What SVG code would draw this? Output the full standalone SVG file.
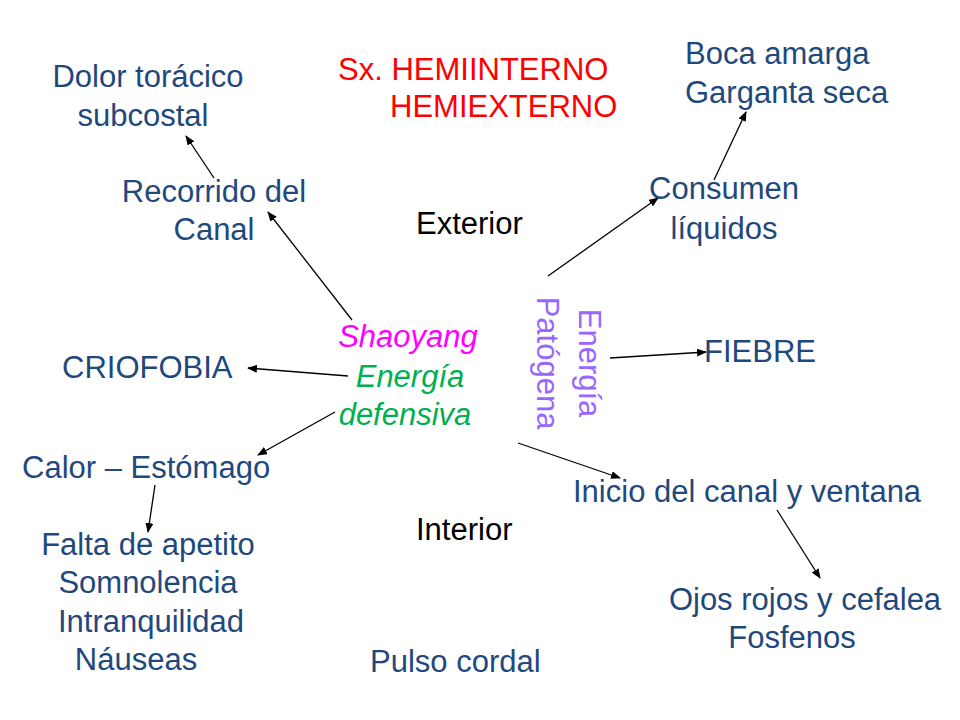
<svg xmlns="http://www.w3.org/2000/svg" width="960" height="720" viewBox="0 0 960 720">
<defs>
<marker id="ah" markerWidth="10" markerHeight="8" refX="9" refY="4" orient="auto" markerUnits="userSpaceOnUse"><path d="M0,0 L10,4 L0,8 Z" fill="#000"/></marker>
<style>
text{font-family:"Liberation Sans",Arial,sans-serif;font-size:31px}
.b{fill:#1F497D}
.r{fill:#FF0000}
.k{fill:#000}
.m{text-anchor:middle}
.c line{stroke:#000;stroke-width:1.3;marker-end:url(#ah)}
</style>
</defs>
<rect width="960" height="720" fill="#fff"/>
<g class="c" id="connectors">
<line x1="214" y1="178" x2="186" y2="136"/>
<line x1="352" y1="320" x2="268" y2="212"/>
<line x1="348" y1="376" x2="248" y2="368"/>
<line x1="335" y1="412" x2="258" y2="455"/>
<line x1="155" y1="485" x2="148" y2="532"/>
<line x1="548" y1="276" x2="658" y2="198"/>
<line x1="714" y1="180" x2="746" y2="112"/>
<line x1="610" y1="358" x2="706" y2="352"/>
<line x1="518" y1="443" x2="620" y2="478"/>
<line x1="777" y1="510" x2="820" y2="578"/>
</g>
<g id="title"><text class="r" x="338" y="80">Sx. HEMIINTERNO</text><text class="r" x="390" y="117">HEMIEXTERNO</text></g>
<g id="dolor"><text class="b m" x="148" y="87">Dolor torácico</text><text class="b m" x="143" y="126">subcostal</text></g>
<g id="boca"><text class="b" x="685" y="64">Boca amarga</text><text class="b" x="685" y="103">Garganta seca</text></g>
<g id="recorrido"><text class="b m" x="214" y="202">Recorrido del</text><text class="b m" x="214" y="240">Canal</text></g>
<g id="exterior"><text class="k" x="416" y="234">Exterior</text></g>
<g id="consumen"><text class="b m" x="724" y="199">Consumen</text><text class="b m" x="724" y="239">líquidos</text></g>
<g id="shaoyang"><text class="m" x="408" y="347" fill="#FF00FF" font-style="italic">Shaoyang</text><text class="m" x="410" y="387" fill="#00B050" font-style="italic">Energía</text><text class="m" x="405" y="425" fill="#00B050" font-style="italic">defensiva</text></g>
<g id="energia"><text class="m" transform="translate(579,363) rotate(90)" fill="#9966FF">Energía</text><text class="m" transform="translate(537,363) rotate(90)" fill="#9966FF">Patógena</text></g>
<g id="criofobia"><text class="b" x="62" y="378">CRIOFOBIA</text></g>
<g id="fiebre"><text class="b" x="704" y="362">FIEBRE</text></g>
<g id="calor"><text class="b" x="22" y="478">Calor – Estómago</text></g>
<g id="inicio"><text class="b" x="573" y="502">Inicio del canal y ventana</text></g>
<g id="interior"><text class="k" x="416" y="540">Interior</text></g>
<g id="falta"><text class="b m" x="148" y="555">Falta de apetito</text><text class="b m" x="148" y="593">Somnolencia</text><text class="b m" x="151" y="632">Intranquilidad</text><text class="b m" x="136" y="670">Náuseas</text></g>
<g id="ojos"><text class="b m" x="805" y="610">Ojos rojos y cefalea</text><text class="b m" x="792" y="648">Fosfenos</text></g>
<g id="pulso"><text class="b" x="370" y="672">Pulso cordal</text></g>
</svg>
